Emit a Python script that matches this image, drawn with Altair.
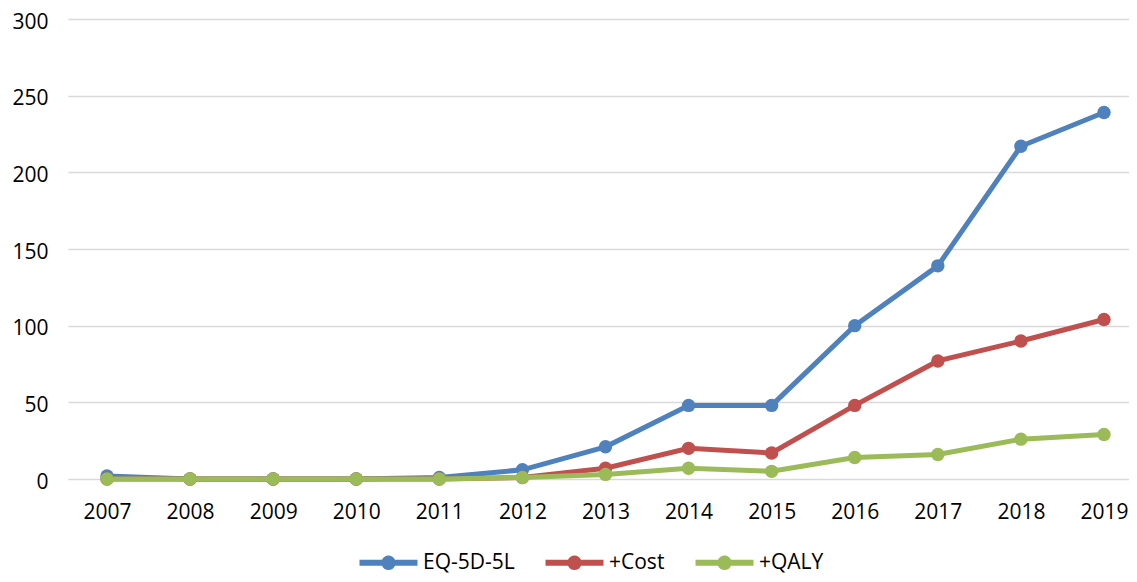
import altair as alt
import pandas as pd

years = list(range(2007, 2020))
series_names = ["EQ-5D-5L", "+Cost", "+QALY"]
eq5d = [2, 0, 0, 0, 1, 6, 21, 48, 48, 100, 139, 217, 239]
cost = [0, 0, 0, 0, 0, 1, 7, 20, 17, 48, 77, 90, 104]
qaly = [0, 0, 0, 0, 0, 1, 3, 7, 5, 14, 16, 26, 29]
colors = ["#4F81BD", "#C0504D", "#9BBB59"]
y_ticks = [0, 50, 100, 150, 200, 250, 300]

rows = []
for name, vals in zip(series_names, [eq5d, cost, qaly]):
    for yr, v in zip(years, vals):
        rows.append({"year": yr, "value": v, "series": name})
df = pd.DataFrame(rows)

FONT = "Open Sans"
FS = 21

x_enc = alt.X("year:Q", scale=alt.Scale(domain=[2006.5306, 2019.301], nice=False, zero=False),
              axis=alt.Axis(values=years, format="d", title=None, grid=False, domain=False,
                            ticks=False, labelFontSize=FS, labelPadding=22, labelColor="#000000",
                            labelFont=FONT))
y_enc = alt.Y("value:Q", scale=alt.Scale(domain=[0, 300], nice=False),
              axis=alt.Axis(values=y_ticks, title=None, grid=True, gridColor="#D9D9D9",
                            gridWidth=1.5, domain=False, ticks=False, labelFontSize=FS,
                            labelPadding=20, labelOffset=3, labelColor="#000000",
                            labelFont=FONT))
color_scale = alt.Scale(domain=series_names, range=colors)

# nominal symbol size 20px (r = 10); path spans x -1..4.8 units -> 58px wide
symbol_path = ("M-1,-0.3 L1.253,-0.3 A0.7,0.7 0 0 1 2.547,-0.3 L4.8,-0.3 L4.8,0.3 "
               "L2.547,0.3 A0.7,0.7 0 0 1 1.253,0.3 L-1,0.3 Z")

layers = []
for i, name in enumerate(series_names):
    base = alt.Chart(df).transform_filter(alt.datum.series == name)
    line = base.mark_line(strokeWidth=5, color=colors[i]).encode(x=x_enc, y=y_enc)
    legend = None
    if i == 0:
        legend = alt.Legend(title=None, orient="none", legendX=291, legendY=533,
                            direction="horizontal", symbolType=symbol_path, symbolSize=400,
                            symbolStrokeWidth=0, labelFontSize=FS, labelFont=FONT,
                            labelColor="#000000", labelOffset=43, columnPadding=30)
    pts = base.mark_circle(size=180, opacity=1).encode(
        x=x_enc, y=y_enc,
        color=alt.Color("series:N", scale=color_scale, legend=legend,
                        sort=series_names))
    layers += [line, pts]

chart = alt.layer(*layers).properties(
    width=1061, height=460,
    autosize=alt.AutoSizeParams(type="none"),
    padding={"left": 60, "top": 11, "right": 0, "bottom": 95},
).configure_view(stroke=None)

chart.save("out.html", embed_options={"renderer": "svg", "actions": False})
